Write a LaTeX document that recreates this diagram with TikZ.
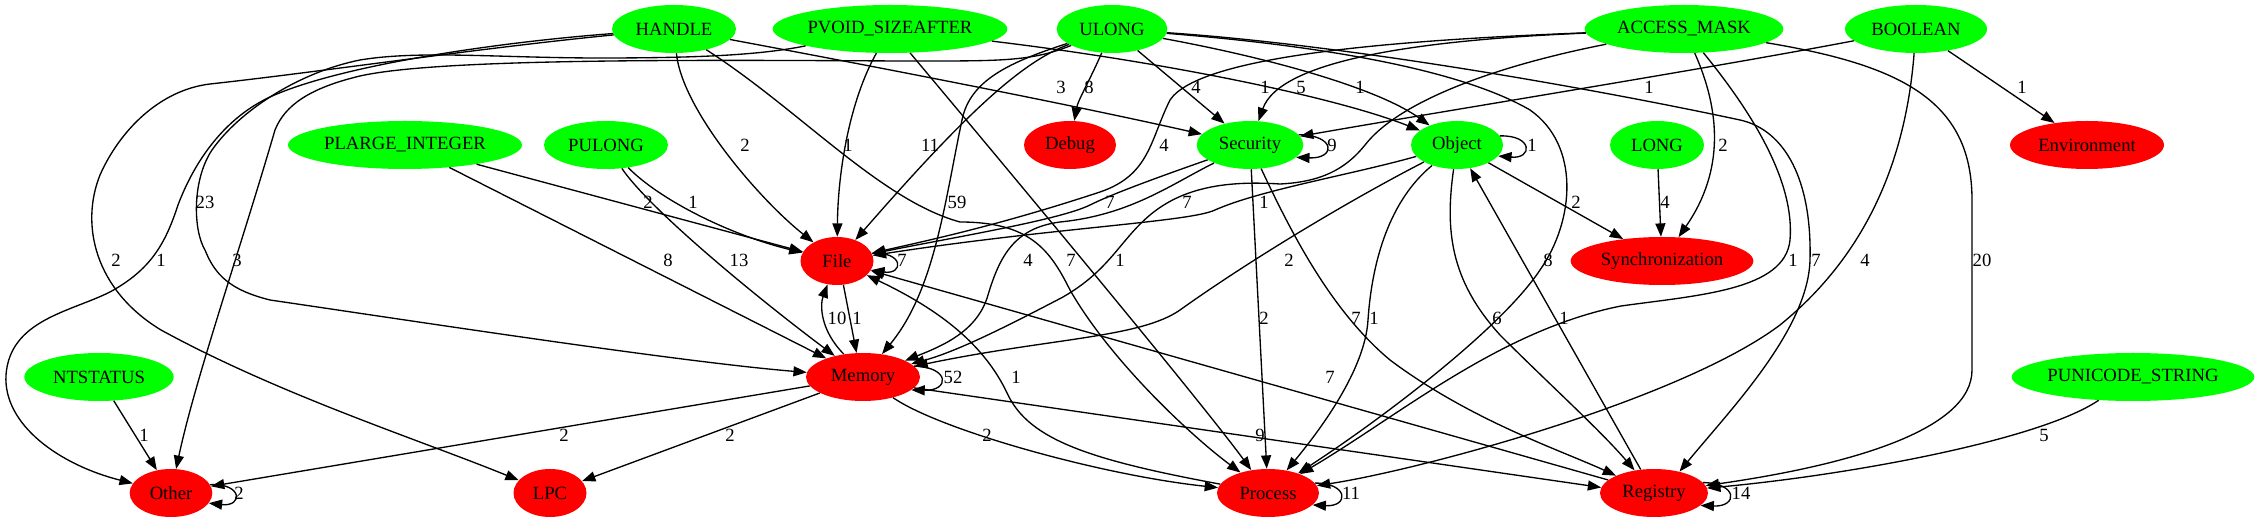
\documentclass[tikz,border=0pt]{standalone}
\usepackage{fontspec}
\setmainfont{Liberation Serif}
\usetikzlibrary{shapes.geometric,arrows.meta}
\definecolor{gvgreen}{RGB}{0,255,0}
\definecolor{gvred}{RGB}{255,0,0}
\begin{document}
\begin{tikzpicture}[x=0.75pt,y=-0.75pt,
  font=\fontsize{14pt}{16.8pt}\selectfont,
  tnode/.style={ellipse, fill=gvgreen, inner sep=0pt, minimum height=36pt},
  cnode/.style={ellipse, fill=gvred, inner sep=0pt, minimum height=36pt},
  gvedge/.style={draw=black, line width=1pt, -{Triangle[length=10pt,width=7.5pt]}},
  elabel/.style={inner sep=0pt}]
\useasboundingbox (0,0) rectangle (2259,523);
% nodes
\node[tnode, minimum width=93pt] (HA) at (674,29) {HANDLE};
\node[tnode, minimum width=176pt] (PV) at (890,29) {PVOID\_SIZEAFTER};
\node[tnode, minimum width=83pt] (UL) at (1112,29) {ULONG};
\node[tnode, minimum width=149pt] (AM) at (1684,29) {ACCESS\_MASK};
\node[tnode, minimum width=106.5pt] (BO) at (1916,29) {BOOLEAN};
\node[tnode, minimum width=175.5pt] (PL) at (405,145) {PLARGE\_INTEGER};
\node[tnode, minimum width=93pt] (PU) at (606,145) {PULONG};
\node[cnode, minimum width=69pt] (DE) at (1070,145) {Debug};
\node[tnode, minimum width=80pt] (SE) at (1250,145) {Security};
\node[tnode, minimum width=69pt] (OB) at (1457,145) {Object};
\node[tnode, minimum width=70.5pt] (LO) at (1657,145) {LONG};
\node[cnode, minimum width=115.5pt] (EN) at (2087,145) {Environment};
\node[cnode, minimum width=54.75pt] (FI) at (837,261) {File};
\node[cnode, minimum width=137pt] (SY) at (1662,261) {Synchronization};
\node[tnode, minimum width=112pt] (NT) at (99,377) {NTSTATUS};
\node[cnode, minimum width=85.5pt] (ME) at (863,377) {Memory};
\node[tnode, minimum width=182pt] (PS) at (2133,377) {PUNICODE\_STRING};
\node[cnode, minimum width=62pt] (OT) at (171,493) {Other};
\node[cnode, minimum width=54.75pt] (LP) at (550,493) {LPC};
\node[cnode, minimum width=76.5pt] (PR) at (1268,493) {Process};
\node[cnode, minimum width=81pt] (RE) at (1654,493) {Registry};
% edges from the top row
\draw[gvedge] (HA) .. controls (850,62) and (1050,100) .. (SE);
\draw[gvedge] (HA) .. controls (682,110) and (760,200) .. (FI);
\draw[gvedge] (HA) .. controls (800,110) and (880,200) .. (960,222) .. controls (1030,222) and (1050,250) .. (1070,290) .. controls (1110,360) and (1190,435) .. (PR);
\draw[gvedge] (HA) .. controls (480,48) and (320,72) .. (210,84) .. controls (160,90) and (120,130) .. (100,175) .. controls (80,225) and (95,290) .. (161,330) .. controls (280,395) and (420,440) .. (LP);
\draw[gvedge] (HA) .. controls (500,42) and (340,65) .. (270,97) .. controls (225,118) and (195,160) .. (178,205) .. controls (165,245) and (150,270) .. (110,292) .. controls (70,312) and (10,320) .. (6,375) .. controls (3,425) and (60,465) .. (OT);
\draw[gvedge] (PV) .. controls (760,55) and (700,58) .. (600,58) .. controls (500,58) and (420,50) .. (360,60) .. controls (300,72) and (240,110) .. (212,150) .. controls (192,180) and (193,230) .. (205,250) .. controls (215,275) and (230,290) .. (270,300) .. controls (420,322) and (680,362) .. (ME);
\draw[gvedge] (UL) .. controls (1030,62) and (1000,61) .. (900,61) .. controls (700,60) and (440,58) .. (360,76) .. controls (310,88) and (285,105) .. (275,130) .. controls (240,250) and (195,380) .. (OT);
\draw[gvedge] (PV) .. controls (850,100) and (838,170) .. (FI);
\draw[gvedge] (PV) .. controls (1000,160) and (1200,400) .. (PR);
\draw[gvedge] (PV) .. controls (1150,60) and (1330,95) .. (OB);
\draw[gvedge] (UL) .. controls (1020,62) and (960,120) .. (FI);
\draw[gvedge] (UL) .. controls (1010,62) and (970,80) .. (962,120) .. controls (945,200) and (935,290) .. (ME);
\draw[gvedge] (UL) .. controls (1090,80) and (1078,100) .. (DE);
\draw[gvedge] (UL) -- (SE);
\draw[gvedge] (UL) .. controls (1280,60) and (1380,90) .. (OB);
\draw[gvedge] (UL) .. controls (1350,48) and (1470,75) .. (1530,110) .. controls (1580,145) and (1575,220) .. (1540,270) .. controls (1500,330) and (1380,420) .. (PR);
\draw[gvedge] (UL) .. controls (1350,45) and (1600,90) .. (1740,120) .. controls (1785,130) and (1812,180) .. (1810,260) .. controls (1808,330) and (1730,410) .. (RE.40);
\draw[gvedge] (AM) .. controls (1420,40) and (1280,60) .. (SE);
\draw[gvedge] (AM) .. controls (1400,40) and (1200,55) .. (1170,100) .. controls (1150,140) and (1150,175) .. (1100,192) .. controls (1000,225) and (930,240) .. (FI);
\draw[gvedge] (AM) .. controls (1500,65) and (1400,100) .. (1365,145) .. controls (1345,170) and (1320,182) .. (1280,184) .. controls (1220,180) and (1180,190) .. (1150,215) .. controls (1120,240) and (1110,270) .. (1063,297) .. controls (1000,330) and (955,352) .. (ME);
\draw[gvedge] (AM) .. controls (1720,110) and (1725,170) .. (SY);
\draw[gvedge] (AM) .. controls (1750,110) and (1795,180) .. (1790,240) .. controls (1785,290) and (1700,295) .. (1621,306) .. controls (1500,330) and (1400,415) .. (PR);
\draw[gvedge] (AM) .. controls (1900,65) and (1972,100) .. (1972,200) -- (1972,370) .. controls (1972,430) and (1850,465) .. (RE);
\draw[gvedge] (BO) .. controls (1700,70) and (1450,110) .. (SE);
\draw[gvedge] (BO) -- (EN);
\draw[gvedge] (BO) .. controls (1905,170) and (1860,260) .. (1780,325) .. controls (1680,400) and (1420,470) .. (PR);
% second row
\draw[gvedge] (PL) -- (FI);
\draw[gvedge] (PL) -- (ME);
\draw[gvedge] (PU) .. controls (660,200) and (730,235) .. (FI);
\draw[gvedge] (PU) .. controls (650,210) and (760,300) .. (ME);
\draw[gvedge] (SE.12) .. controls (1336,135) and (1336,159) .. (SE.-15);
\draw[gvedge] (SE) .. controls (1150,180) and (1110,195) .. (1090,205) .. controls (1060,220) and (950,238) .. (FI);
\draw[gvedge] (SE) .. controls (1170,185) and (1130,215) .. (1060,222) .. controls (1015,228) and (1000,255) .. (988,295) .. controls (978,330) and (945,345) .. (ME);
\draw[gvedge] (SE) -- (PR);
\draw[gvedge] (SE) .. controls (1290,230) and (1330,310) .. (1390,360) .. controls (1470,420) and (1560,450) .. (RE);
\draw[gvedge] (OB.12) .. controls (1533,135) and (1533,159) .. (OB.-15);
\draw[gvedge] (OB) .. controls (1350,175) and (1260,190) .. (1215,210) .. controls (1190,222) and (1050,228) .. (FI);
\draw[gvedge] (OB) .. controls (1350,200) and (1250,260) .. (1180,310) .. controls (1140,338) and (1050,338) .. (ME);
\draw[gvedge] (OB) -- (SY);
\draw[gvedge] (OB) .. controls (1390,200) and (1372,260) .. (1368,320) .. controls (1365,370) and (1320,430) .. (PR);
\draw[gvedge] (OB) .. controls (1445,230) and (1450,280) .. (1500,335) .. controls (1550,385) and (1600,430) .. (RE);
\draw[gvedge] (LO) -- (SY);
% lower rows
\draw[gvedge] (FI.12) .. controls (904,251) and (904,275) .. (FI.-15);
\draw[gvedge] (FI.-75) -- (ME.105);
\draw[gvedge] (ME.130) .. controls (820,330) and (820,305) .. (FI.-112);
\draw[gvedge] (ME.12) .. controls (950,367) and (950,391) .. (ME.-15);
\draw[gvedge] (ME) -- (OT);
\draw[gvedge] (ME) -- (LP);
\draw[gvedge] (ME) .. controls (940,430) and (1100,475) .. (PR);
\draw[gvedge] (ME.-12) -- (RE.174);
\draw[gvedge] (NT) -- (OT);
\draw[gvedge] (OT.12) .. controls (243,483) and (243,507) .. (OT.-15);
\draw[gvedge] (PR.12) .. controls (1349,483) and (1349,507) .. (PR.-15);
\draw[gvedge] (PR) .. controls (1090,460) and (1030,440) .. (1008,395) .. controls (985,345) and (940,310) .. (FI);
\draw[gvedge] (RE.12) .. controls (1738,483) and (1738,507) .. (RE.-15);
\draw[gvedge] (RE) -- (FI);
\draw[gvedge] (RE) -- (OB);
\draw[gvedge] (PS) .. controls (2040,440) and (1850,475) .. (RE);
% labels
\node[elabel] (l1) at (1061,87) {3};
\node[elabel] (l2) at (1089,87) {8};
\node[elabel] (l3) at (1196,87) {4};
\node[elabel] (l4) at (1265,87) {1};
\node[elabel] (l5) at (1301,87) {5};
\node[elabel] (l6) at (1360,87) {1};
\node[elabel] (l7) at (1649,87) {1};
\node[elabel] (l8) at (2022,87) {1};
\node[elabel] (l9) at (745,145) {2};
\node[elabel] (l10) at (848,145) {1};
\node[elabel] (l11) at (930,145) {11};
\node[elabel] (l12) at (1164,145) {4};
\node[elabel] (l13) at (1332,145) {9};
\node[elabel] (l14) at (1532,145) {1};
\node[elabel] (l15) at (1723,145) {2};
\node[elabel] (l16) at (205,202) {23};
\node[elabel] (l17) at (648,202) {2};
\node[elabel] (l18) at (693,202) {1};
\node[elabel] (l19) at (957,202) {59};
\node[elabel] (l20) at (1110,202) {7};
\node[elabel] (l21) at (1187,202) {7};
\node[elabel] (l22) at (1264,202) {1};
\node[elabel] (l23) at (1576,202) {2};
\node[elabel] (l24) at (1665,202) {4};
\node[elabel] (l25) at (116,260) {2};
\node[elabel] (l26) at (161,260) {1};
\node[elabel] (l27) at (237,260) {3};
\node[elabel] (l28) at (668,260) {8};
\node[elabel] (l29) at (739,260) {13};
\node[elabel] (l30) at (902,260) {7};
\node[elabel] (l31) at (1028,260) {4};
\node[elabel] (l32) at (1071,260) {7};
\node[elabel] (l33) at (1120,260) {1};
\node[elabel] (l34) at (1289,260) {2};
\node[elabel] (l35) at (1548,260) {8};
\node[elabel] (l36) at (1793,260) {1};
\node[elabel] (l37) at (1816,260) {7};
\node[elabel] (l38) at (1865,260) {4};
\node[elabel] (l39) at (1982,260) {20};
\node[elabel] (l40) at (837,318) {10};
\node[elabel] (l41) at (857,318) {1};
\node[elabel] (l42) at (1264,318) {2};
\node[elabel] (l43) at (1356,318) {7};
\node[elabel] (l44) at (1374,318) {1};
\node[elabel] (l45) at (1497,318) {6};
\node[elabel] (l46) at (1564,318) {1};
\node[elabel] (l47) at (953,377) {52};
\node[elabel] (l48) at (1016,377) {1};
\node[elabel] (l49) at (1330,377) {7};
\node[elabel] (l50) at (144,435) {1};
\node[elabel] (l51) at (564,435) {2};
\node[elabel] (l52) at (730,435) {2};
\node[elabel] (l53) at (987,435) {2};
\node[elabel] (l54) at (1260,435) {9};
\node[elabel] (l55) at (2044,435) {5};
\node[elabel] (l56) at (239,493) {2};
\node[elabel] (l57) at (1351,493) {11};
\node[elabel] (l58) at (1741,493) {14};
\end{tikzpicture}
\end{document}
